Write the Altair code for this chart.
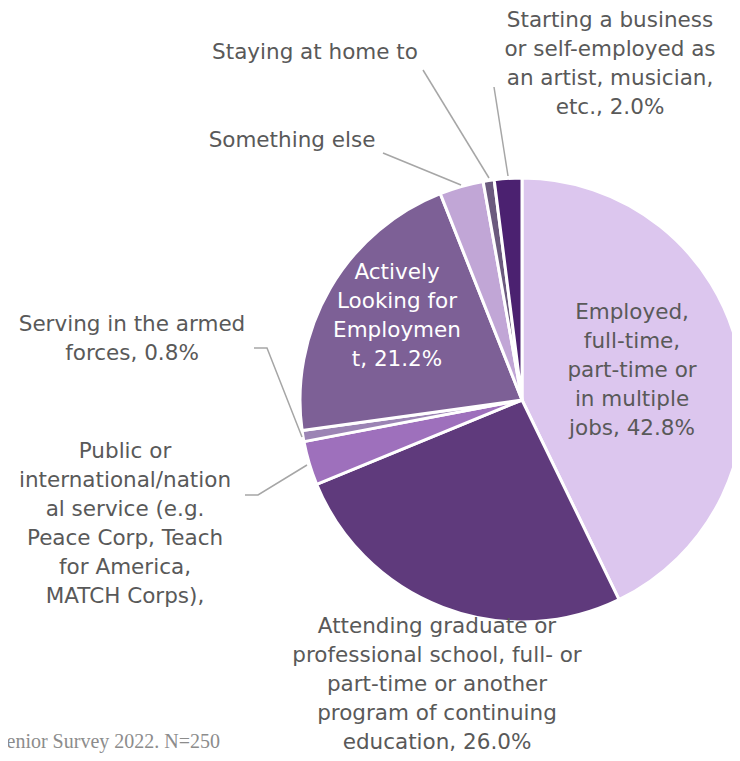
import altair as alt
import pandas as pd

categories = [
    "Employed, full-time, part-time or in multiple jobs",
    "Attending graduate or professional school",
    "Public or international/national service",
    "Serving in the armed forces",
    "Actively Looking for Employment",
    "Something else",
    "Staying at home",
    "Starting a business or self-employed",
]
values = [42.8, 26.0, 3.2, 0.8, 21.2, 3.2, 0.8, 2.0]
colors = ["#DCC6EE", "#5F3A7C", "#9E70BC", "#9B84B4", "#7D6096", "#C1A6D6", "#6B5A7E", "#4B2170"]

label_texts = [
    "Employed,\nfull-time,\npart-time or\nin multiple\njobs, 42.8%",
    "Attending graduate or\nprofessional school, full- or\npart-time or another\nprogram of continuing\neducation, 26.0%",
    "Public or\ninternational/nation\nal service (e.g.\nPeace Corp, Teach\nfor America,\nMATCH Corps),",
    "Serving in the armed\nforces, 0.8%",
    "Actively\nLooking for\nEmploymen\nt, 21.2%",
    "Something else",
    "Staying at home to",
    "Starting a business\nor self-employed as\nan artist, musician,\netc., 2.0%",
]
# label layout (pixel anchors of first line within the chart)
label_x = [624, 429, 117, 124, 389, 284, 307, 602]
label_y = [305, 619, 444, 317, 265, 133, 45, 13]
label_color = ["#595959", "#595959", "#595959", "#595959", "#FFFFFF", "#595959", "#595959", "#595959"]

# leader lines (pixel anchors within the chart)
leader_id = [0, 0, 1, 1, 2, 2, 3, 3, 3, 4, 4, 4]
leader_x = [486, 500, 415, 481, 375, 453, 246, 259, 294, 237, 250, 299]
leader_y = [79, 168, 62, 170, 145, 177, 340, 340, 429, 487, 487, 457]

pie = pd.DataFrame({"cat": categories, "value": values, "idx": list(range(len(values)))})
labels = pd.DataFrame({"text": label_texts, "x": label_x, "y": label_y, "c": label_color})
leaders = pd.DataFrame({"g": leader_id, "x": leader_x, "y": leader_y, "o": list(range(len(leader_x)))})

arc = alt.Chart(pie).mark_arc(outerRadius=222, stroke="white", strokeWidth=3).encode(
    theta=alt.Theta("value:Q", stack=True),
    order=alt.Order("idx:Q"),
    color=alt.Color("cat:N", scale=alt.Scale(domain=categories, range=colors), legend=None),
    x=alt.value(514),
    y=alt.value(392),
)

lines = alt.Chart(leaders).mark_line(color="#A6A6A6", strokeWidth=1.5).encode(
    x=alt.X("x:Q", scale=None),
    y=alt.Y("y:Q", scale=None),
    detail="g:N",
    order="o:Q",
)

text = alt.Chart(labels).mark_text(
    font="DejaVu Sans", fontSize=21.5, lineBreak="\n", lineHeight=29,
    align="center", baseline="middle",
).encode(
    x=alt.X("x:Q", scale=None),
    y=alt.Y("y:Q", scale=None),
    text="text:N",
    color=alt.Color("c:N", scale=None),
)

footer = alt.Chart(pd.DataFrame({"t": ["Senior Survey 2022. N=250"]})).mark_text(
    font="Liberation Serif", fontSize=20, align="right", baseline="middle", color="#8C8C8C"
).encode(x=alt.value(212), y=alt.value(734), text="t:N")

chart = alt.layer(arc, lines, text, footer).properties(
    width=724, height=745, autosize=alt.AutoSizeParams(type="none"), padding=0
).configure_view(stroke=None)

chart.save("out.html", embed_options={"renderer": "svg", "actions": False})
